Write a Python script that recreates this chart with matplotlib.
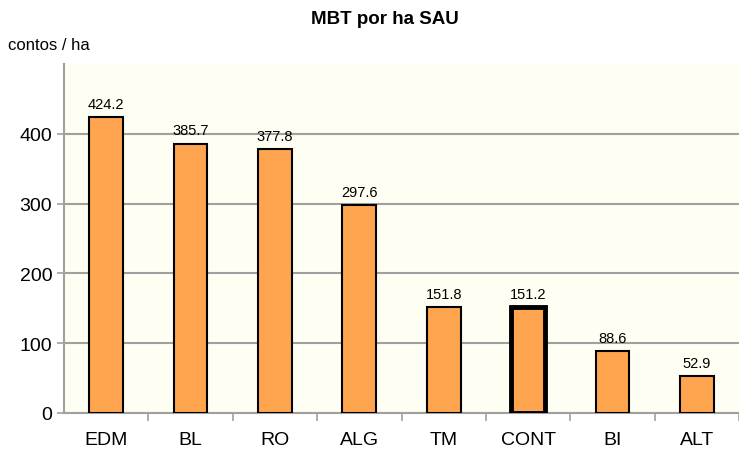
import numpy as np
import matplotlib.pyplot as plt

plt.rcParams['font.family'] = ['Liberation Sans', 'DejaVu Sans']

regions = ['EDM', 'BL', 'RO', 'ALG', 'TM', 'CONT', 'BI', 'ALT']
mbt = [424.2, 385.7, 377.8, 297.6, 151.8, 151.2, 88.6, 52.9]
yticks = [0, 100, 200, 300, 400]

fig = plt.figure(figsize=(7.39, 4.56), dpi=100)
ax = fig.add_axes([64/739, 1 - 414/456, 675/739, 349/456])
ax.set_facecolor('#FFFEF2')

x = np.arange(len(regions))
lw = [1.5] * len(regions)
lw[regions.index('CONT')] = 3.5
bars = ax.bar(x, mbt, width=0.4, color='#FFA54F', edgecolor='black', linewidth=lw, zorder=3)

for xi, v in zip(x, mbt):
    ax.text(xi, v + 9, f'{v:.1f}', ha='center', va='bottom', fontsize=10.5)

ax.set_xlim(-0.5, len(regions) - 0.5)
ax.set_ylim(0, 500)
ax.set_yticks(yticks)
ax.yaxis.grid(True, color='#A0A0A0', linewidth=1.5, zorder=0)
ax.tick_params(axis='y', labelsize=14, length=5, color='#A0A0A0', width=1.2)

# category labels centred, tick marks between categories
ax.set_xticks(x)
ax.set_xticklabels(regions, fontsize=14)
ax.tick_params(axis='x', which='major', length=0, pad=13)
ax.set_xticks(np.arange(len(regions)) + 0.5, minor=True)
ax.tick_params(axis='x', which='minor', length=6, color='#A0A0A0', width=1.2, direction='out')

for s in ['top', 'right']:
    ax.spines[s].set_visible(False)
for s in ['left', 'bottom']:
    ax.spines[s].set_color('#A0A0A0')
    ax.spines[s].set_linewidth(1.5)

fig.text(385/739, 1 - 20/456, 'MBT por ha SAU', ha='center', va='center', fontsize=13.5, fontweight='bold')
fig.text(8/739, 1 - 45/456, 'contos / ha', ha='left', va='center', fontsize=12)

fig.savefig('out.png', dpi=100)
